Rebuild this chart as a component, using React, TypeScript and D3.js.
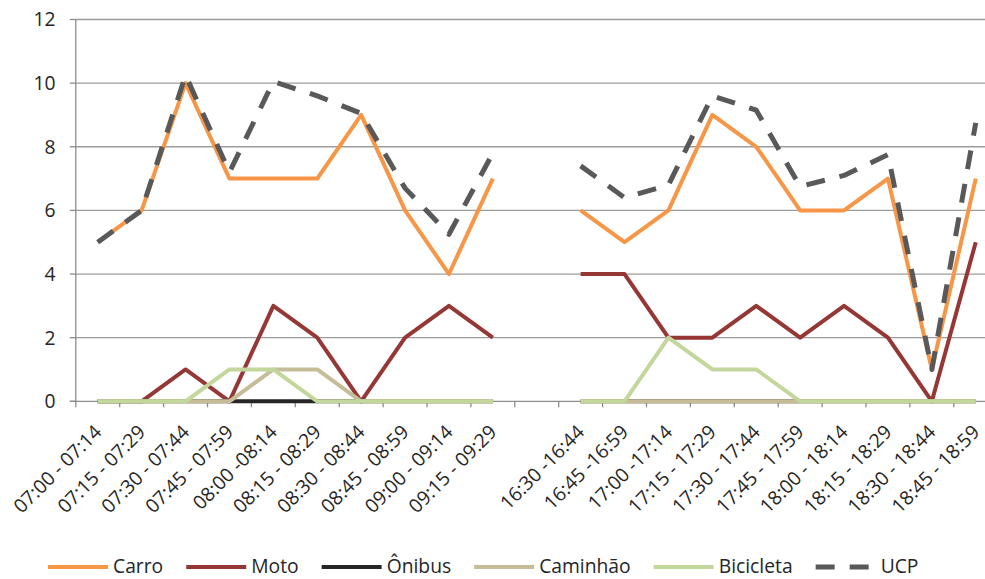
import React, { useEffect, useRef } from 'react';
import * as d3 from 'd3';

const categories: string[] = [
  '07:00 - 07:14', '07:15 - 07:29', '07:30 - 07:44', '07:45 - 07:59', '08:00 -08:14',
  '08:15 - 08:29', '08:30 - 08:44', '08:45 - 08:59', '09:00 - 09:14', '09:15 - 09:29',
  '',
  '16:30 -16:44', '16:45 -16:59', '17:00 -17:14', '17:15 - 17:29', '17:30 - 17:44',
  '17:45 - 17:59', '18:00 - 18:14', '18:15 - 18:29', '18:30 - 18:44', '18:45 - 18:59',
];

const carro = [5, 6, 10, 7, 7, 7, 9, 6, 4, 7, null, 6, 5, 6, 9, 8, 6, 6, 7, 1, 7];
const moto = [0, 0, 1, 0, 3, 2, 0, 2, 3, 2, null, 4, 4, 2, 2, 3, 2, 3, 2, 0, 5];
const onibus = [0, 0, 0, 0, 0, 0, 0, 0, 0, 0, null, 0, 0, 0, 0, 0, 0, 0, 0, 0, 0];
const caminhao = [0, 0, 0, 0, 1, 1, 0, 0, 0, 0, null, 0, 0, 0, 0, 0, 0, 0, 0, 0, 0];
const bicicleta = [0, 0, 0, 1, 1, 0, 0, 0, 0, 0, null, 0, 0, 2, 1, 1, 0, 0, 0, 0, 0];
const ucp = [5, 6, 10.25, 7.2, 10.05, 9.6, 9.05, 6.7, 5.25, 7.8, null, 7.4, 6.4, 6.8, 9.6, 9.15, 6.75, 7.1, 7.75, 1.0, 8.75];

const seriesNames = ['Carro', 'Moto', 'Ônibus', 'Caminhão', 'Bicicleta', 'UCP'];
const seriesValues = [carro, moto, onibus, caminhao, bicicleta, ucp];
const seriesColors = ['#F79646', '#953735', '#262626', '#C4BD97', '#C3D69B', '#595959'];

const yTicks = [0, 2, 4, 6, 8, 10, 12];

const W = 985;
const H = 579;
const FONT = "'Open Sans', sans-serif";
const TEXT = '#262626';
const FS = 19.3;

export default function App() {
  const ref = useRef<SVGSVGElement | null>(null);

  useEffect(() => {
    const svg = d3.select(ref.current);
    svg.selectAll('*').remove();

    const left = 75.8;
    const right = 997.7;
    const top = 19.5;
    const bottom = 401.3;

    const x = d3.scaleBand<number>().domain(categories.map((_, i) => i)).range([left, right]).padding(0);
    const cx = (i: number) => (x(i) as number) + x.bandwidth() / 2;
    const y = d3.scaleLinear().domain([0, 12]).range([bottom, top]);

    // gridlines
    svg.append('g')
      .selectAll('line')
      .data(yTicks.filter((t) => t > 0))
      .join('line')
      .attr('x1', left).attr('x2', right)
      .attr('y1', (d) => y(d)).attr('y2', (d) => y(d))
      .attr('stroke', '#9c9c9c').attr('stroke-width', 1.3);

    // y axis
    const ya = svg.append('g');
    ya.append('line').attr('x1', left).attr('x2', left).attr('y1', top).attr('y2', bottom)
      .attr('stroke', '#8c8c8c').attr('stroke-width', 1.3);
    ya.selectAll('line.tk').data(yTicks).join('line').attr('class', 'tk')
      .attr('x1', left - 6).attr('x2', left).attr('y1', (d) => y(d)).attr('y2', (d) => y(d))
      .attr('stroke', '#8c8c8c').attr('stroke-width', 1.3);
    ya.selectAll('text').data(yTicks).join('text')
      .attr('x', 55.5).attr('y', (d) => y(d)).attr('dy', '0.36em')
      .attr('text-anchor', 'end')
      .attr('font-family', FONT).attr('font-size', FS).attr('fill', TEXT)
      .text((d) => String(d));

    // x axis
    const xa = svg.append('g');
    xa.append('line').attr('x1', left - 6).attr('x2', right).attr('y1', bottom).attr('y2', bottom)
      .attr('stroke', '#8c8c8c').attr('stroke-width', 1.3);
    const bounds = categories.map((_, i) => x(i) as number);
    xa.selectAll('line.tk').data(bounds).join('line').attr('class', 'tk')
      .attr('x1', (d) => d).attr('x2', (d) => d).attr('y1', bottom).attr('y2', bottom + 6)
      .attr('stroke', '#8c8c8c').attr('stroke-width', 1.3);
    xa.selectAll('text').data(categories).join('text')
      .attr('transform', (_, i) => `translate(${cx(i) + 5},${bottom + 32}) rotate(-45)`)
      .attr('text-anchor', 'end')
      .attr('font-family', FONT).attr('font-size', FS).attr('fill', TEXT)
      .text((d) => d);

    // series
    const line = d3.line<number | null>()
      .defined((d) => d !== null)
      .x((_, i) => cx(i))
      .y((d) => y(d as number));

    const g = svg.append('g');
    seriesValues.forEach((vals, si) => {
      const isUcp = seriesNames[si] === 'UCP';
      g.append('path')
        .attr('d', line(vals as (number | null)[]) as string)
        .attr('fill', 'none')
        .attr('stroke', seriesColors[si])
        .attr('stroke-width', isUcp ? 5 : 4)
        .attr('stroke-linejoin', 'round')
        .attr('stroke-dasharray', isUcp ? '19 15' : null);
    });

    // legend
    const lg = svg.append('g');
    let lx = 48;
    const ly = 567;
    seriesNames.forEach((name, si) => {
      const isUcp = name === 'UCP';
      lg.append('line')
        .attr('x1', lx).attr('x2', lx + 60).attr('y1', ly).attr('y2', ly)
        .attr('stroke', seriesColors[si])
        .attr('stroke-width', isUcp ? 5 : 4)
        .attr('stroke-dasharray', isUcp ? '19 15' : null);
      const t = lg.append('text')
        .attr('x', lx + 65).attr('y', ly).attr('dy', '0.3em')
        .attr('font-family', FONT).attr('font-size', FS).attr('fill', TEXT)
        .text(name);
      const w = (t.node() as SVGTextElement).getComputedTextLength();
      lx = lx + 65 + w + 23;
    });
  }, []);

  return (
    <svg
      ref={ref}
      width={W}
      height={H}
      style={{ position: 'absolute', left: 0, top: 0, background: '#fff' }}
    />
  );
}
